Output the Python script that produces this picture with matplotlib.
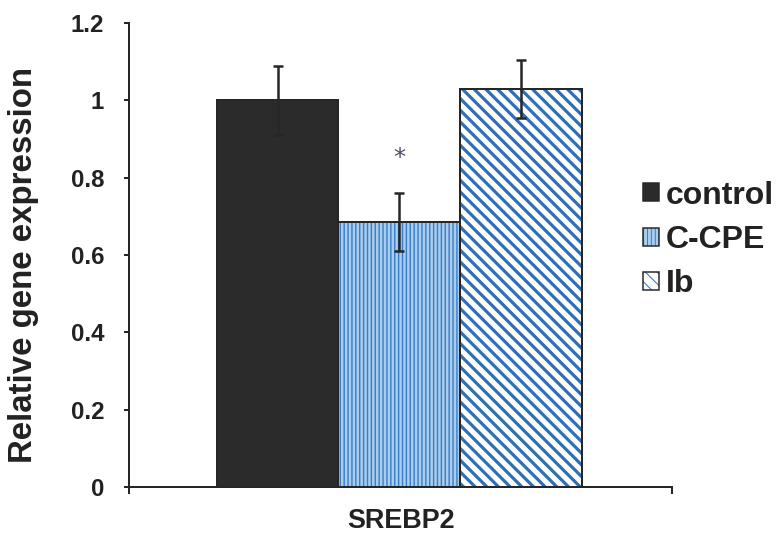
import matplotlib
matplotlib.use('Agg')
import matplotlib.pyplot as plt
from matplotlib.patches import Patch
from matplotlib.legend_handler import HandlerTuple

# ── data ─────────────────────────────────────────────────────────────────────
GROUPS   = ['control', 'C-CPE', 'Ib']
VALUES   = [1.0, 0.685, 1.03]
ERRORS   = [0.09, 0.075, 0.075]
GENE     = 'SREBP2'
Y_TICKS  = [0, 0.2, 0.4, 0.6, 0.8, 1.0, 1.2]
Y_LABELS = ['0', '0.2', '0.4', '0.6', '0.8', '1', '1.2']
SIG_MARK = {'C-CPE': '*'}

# ── style ────────────────────────────────────────────────────────────────────
DPI = 70                      # low dpi keeps hatch spacing close to the scan
W, H = 782, 535
def px(p):                    # pixels -> points at this dpi
    return p * 72.0 / DPI

DARK   = '#262626'
BLUE   = '#2f6fb8'
STYLES = {
    'control': dict(face='#2b2b2b', hatch=None,   hcolor='#2b2b2b', hlw=0),
    'C-CPE':   dict(face='#a8cdee', hatch='|||',  hcolor='#3a7dc6', hlw=px(1.4)),
    'Ib':      dict(face='white',   hatch='\\\\', hcolor=BLUE,      hlw=px(3.2)),
}

plt.rcParams['font.family'] = ['Liberation Sans', 'DejaVu Sans']
plt.rcParams['font.weight'] = 'bold'

fig = plt.figure(figsize=(W / DPI, H / DPI), dpi=DPI)
ax = fig.add_axes([129 / W, 48 / H, (672 - 129) / W, (487 - 23) / H])

xpos = [i - 1 for i in range(len(GROUPS))]
handles = []
for x, g, v, e in zip(xpos, GROUPS, VALUES, ERRORS):
    st = STYLES[g]
    with plt.rc_context({'hatch.linewidth': st['hlw'] or 1.0}):
        fill = ax.bar(x, v, width=1.0, color=st['face'], hatch=st['hatch'],
                      edgecolor=st['hcolor'], linewidth=0, zorder=2)
        outline = ax.bar(x, v, width=1.0, fill=False, edgecolor=DARK,
                         linewidth=px(2), zorder=3)
        hp = Patch(facecolor=st['face'], hatch=st['hatch'],
                   edgecolor=st['hcolor'], linewidth=0)
    op = Patch(fill=False, edgecolor=DARK, linewidth=px(1.5))
    for p in list(fill) + [hp]:
        if st['hatch'] and hasattr(p, 'set_hatch_linewidth'):
            p.set_hatch_linewidth(st['hlw'])
    handles.append((hp, op))
    ax.errorbar(x, v, yerr=e, fmt='none', ecolor=DARK, elinewidth=px(2.5),
                capsize=px(5), capthick=px(2.5), zorder=4)
    if g in SIG_MARK:
        ax.text(x, v + e + 0.09, SIG_MARK[g], ha='center', va='center',
                fontsize=px(24), fontweight='normal', color='#4a5060',
                family='DejaVu Sans')

ax.set_ylim(0, 1.2)
ax.set_xlim(-2.22, 2.24)
ax.set_yticks(Y_TICKS)
ax.set_yticklabels(Y_LABELS)
ax.set_xticks([-2.22, 2.24])
ax.set_xticklabels(['', ''])
ax.tick_params(axis='y', direction='out', length=px(5), width=px(2),
               pad=px(20), labelsize=px(24), labelcolor='#222222', color=DARK)
ax.tick_params(axis='x', direction='out', length=px(7), width=px(2), color=DARK)
for side in ('top', 'right'):
    ax.spines[side].set_visible(False)
for side in ('left', 'bottom'):
    ax.spines[side].set_linewidth(px(2))
    ax.spines[side].set_color(DARK)

fig.text(24 / W, 1 - 265 / H, 'Relative gene expression', rotation=90,
         ha='center', va='center', fontsize=px(33), color='#222222')
fig.text(401 / W, 1 - 528 / H, GENE, ha='center', va='baseline',
         fontsize=px(27), color='#222222')

leg = fig.legend(handles, GROUPS, handler_map={tuple: HandlerTuple(ndivide=1)},
                 loc='center left', bbox_to_anchor=(643 / W, 1 - 240 / H),
                 frameon=False, fontsize=px(32), handlelength=0.5,
                 handleheight=0.5, handletextpad=0.22, labelspacing=0.45,
                 borderpad=0, borderaxespad=0)
for t in leg.get_texts():
    t.set_color('#222222')

fig.savefig('out.png', dpi=DPI)
